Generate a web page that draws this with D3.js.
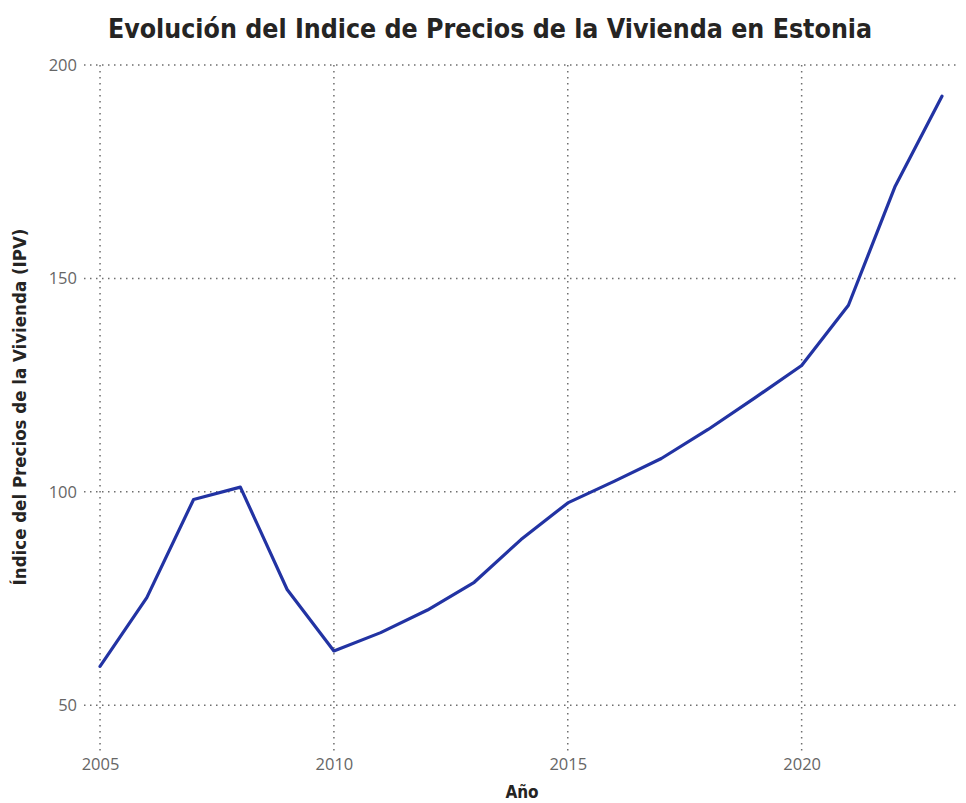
<!DOCTYPE html>
<html>
<head>
<meta charset="utf-8">
<script src="https://cdn.jsdelivr.net/npm/d3@7"></script>
<style>
  body { margin: 0; background: #fff; }
  svg { display: block; }
</style>
</head>
<body>
<svg id="chart" width="966" height="803"></svg>
<script>
// años y valores del IPV
const years = [2005, 2006, 2007, 2008, 2009, 2010, 2011, 2012, 2013, 2014,
    2015, 2016, 2017, 2018, 2019, 2020, 2021, 2022, 2023];
const ipv = [59.1, 75.2, 98.2, 101.1, 77.1, 62.7, 67.0, 72.3, 78.8, 88.8,
    97.4, 102.5, 107.8, 114.6, 122.0, 129.6, 143.7, 171.6, 192.7];
const xTicks = [2005, 2010, 2015, 2020];
const yTicks = [50, 100, 150, 200];

const data = years.map((y, i) => ({ year: y, value: ipv[i] }));

const svg = d3.select("#chart");

const x = d3.scaleLinear()
    .domain([2004.7, 2023.3])
    .range([86, 956]);

const y = d3.scaleLinear()
    .domain([39.5, 200])
    .range([750, 65]);

const gridColor = "#6e6e6e";
const labelColor = "#666";
const condensed = "'Liberation Sans Narrow', 'DejaVu Sans Condensed', 'Roboto', sans-serif";
const tickFont = "'Open Sans', 'Noto Sans', sans-serif";

// vertical gridlines
svg.append("g")
    .selectAll("line")
    .data(xTicks)
    .join("line")
    .attr("x1", d => x(d))
    .attr("x2", d => x(d))
    .attr("y1", y(200))
    .attr("y2", 752)
    .attr("stroke", gridColor)
    .attr("stroke-width", 1.5)
    .attr("stroke-dasharray", "1.5,4.5");

// horizontal gridlines
svg.append("g")
    .selectAll("line")
    .data(yTicks)
    .join("line")
    .attr("x1", 84)
    .attr("x2", 956)
    .attr("y1", d => y(d))
    .attr("y2", d => y(d))
    .attr("stroke", gridColor)
    .attr("stroke-width", 1.5)
    .attr("stroke-dasharray", "1.5,4.5");

// y axis labels
const yAxis = g => g
    .attr("transform", "translate(84,0)")
    .call(d3.axisLeft(y).tickValues(yTicks).tickSize(0).tickPadding(7))
    .call(g => g.select(".domain").remove())
    .call(g => g.selectAll("text")
        .attr("fill", labelColor)
        .style("font-family", tickFont)
        .style("font-size", "16.5px"));

// x axis labels
const xAxis = g => g
    .attr("transform", "translate(0,754)")
    .call(d3.axisBottom(x).tickValues(xTicks).tickFormat(d3.format("d")).tickSize(0).tickPadding(4))
    .call(g => g.select(".domain").remove())
    .call(g => g.selectAll("text")
        .attr("fill", labelColor)
        .style("font-family", tickFont)
        .style("font-size", "16.5px"));

svg.append("g").call(yAxis);
svg.append("g").call(xAxis);

const line = d3.line()
    .x(d => x(d.year))
    .y(d => y(d.value));

svg.append("path")
    .datum(data)
    .attr("fill", "none")
    .attr("stroke", "#2233a3")
    .attr("stroke-width", 3.2)
    .attr("stroke-linejoin", "round")
    .attr("stroke-linecap", "round")
    .attr("d", line);

// title
svg.append("text")
    .attr("x", 490)
    .attr("y", 38)
    .attr("text-anchor", "middle")
    .attr("fill", "#252423")
    .style("font-family", condensed)
    .style("font-weight", "bold")
    .style("font-size", "26.5px")
    .text("Evolución del Indice de Precios de la Vivienda en Estonia");

// axis titles
svg.append("text")
    .attr("x", 522)
    .attr("y", 798)
    .attr("text-anchor", "middle")
    .attr("fill", "#252423")
    .style("font-family", condensed)
    .style("font-weight", "bold")
    .style("font-size", "17px")
    .text("Año");

svg.append("text")
    .attr("transform", "translate(26,407) rotate(-90)")
    .attr("text-anchor", "middle")
    .attr("fill", "#252423")
    .style("font-family", condensed)
    .style("font-weight", "bold")
    .style("font-size", "18.5px")
    .text("Índice del Precios de la Vivienda (IPV)");
</script>
</body>
</html>
